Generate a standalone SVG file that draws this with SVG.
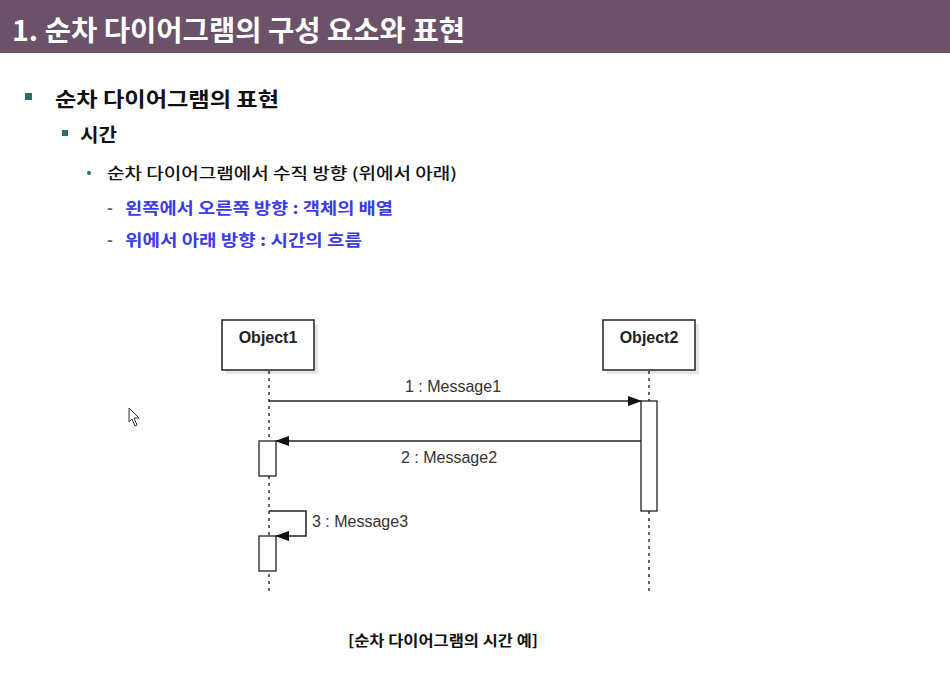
<svg xmlns="http://www.w3.org/2000/svg" width="950" height="697" viewBox="0 0 950 697">
<defs>
<style>
.kr{font-family:"Noto Sans CJK KR","Noto Sans",sans-serif;}
.title{fill:#ffffff;font-size:28px;font-weight:700;}
.h1{fill:#111;font-size:20px;font-weight:700;}
.h2{fill:#111;font-size:19px;font-weight:700;}
.h3{fill:#111;font-size:15.5px;font-weight:500;}
.blue{fill:#3b3bea;font-size:16px;font-weight:700;}
.dash{fill:#2e6b6b;font-size:16px;font-weight:700;}
.obj{fill:#fff;stroke:#222;stroke-width:1.5;}
.shadow{fill:#e6e6e6;}
.objt{font-family:"Liberation Sans",Arial,sans-serif;font-size:16px;font-weight:700;fill:#222;}
.msg{font-family:"Liberation Sans",Arial,sans-serif;font-size:16px;fill:#333;}
.life{stroke:#333;stroke-width:1.5;stroke-dasharray:3,4;fill:none;}
.act{fill:#fff;stroke:#222;stroke-width:1.3;}
.line{stroke:#222;stroke-width:1.5;fill:none;}
</style>
<marker id="ah" markerWidth="14" markerHeight="10" refX="13" refY="5" orient="auto" markerUnits="userSpaceOnUse">
<path d="M0,0 L14,5 L0,10 Z" fill="#111"/>
</marker>
</defs>
<rect width="950" height="697" fill="#ffffff"/>
<g id="header">
<rect x="0" y="0" width="950" height="53" fill="#6b5268"/>
<text class="kr title" x="12" y="41" textLength="453" lengthAdjust="spacingAndGlyphs">1. 순차 다이어그램의 구성 요소와 표현</text>
</g>
<g id="bullets">
<rect x="25" y="93" width="7" height="7" fill="#2e6b6b"/>
<text class="kr h1" x="55" y="107" textLength="224" lengthAdjust="spacingAndGlyphs">순차 다이어그램의 표현</text>
<rect x="62" y="130" width="6" height="6" fill="#2e6b6b"/>
<text class="kr h2" x="80" y="142" textLength="37" lengthAdjust="spacingAndGlyphs">시간</text>
<circle cx="89" cy="173" r="2" fill="#2e6b6b"/>
<text class="kr h3" x="107" y="179" textLength="350" lengthAdjust="spacingAndGlyphs">순차 다이어그램에서 수직 방향 (위에서 아래)</text>
<text class="kr dash" x="107" y="214">-</text>
<text class="kr blue" x="125" y="214" textLength="268" lengthAdjust="spacingAndGlyphs">왼쪽에서 오른쪽 방향 : 객체의 배열</text>
<text class="kr dash" x="107" y="246">-</text>
<text class="kr blue" x="125" y="246" textLength="237" lengthAdjust="spacingAndGlyphs">위에서 아래 방향 : 시간의 흐름</text>
</g>
<g id="cursor">
<path d="M129,408 L129,422 L132,419 L135,426 L137,425 L134,418 L139,418 Z" fill="#fff" stroke="#333" stroke-width="1"/>
</g>
<g id="object1">
<rect class="shadow" x="226" y="324" width="92" height="50"/>
<rect class="obj" x="222" y="320" width="92" height="50"/>
<text class="objt" x="268" y="343" text-anchor="middle">Object1</text>
</g>
<g id="object2">
<rect class="shadow" x="607" y="324" width="92" height="50"/>
<rect class="obj" x="603" y="320" width="92" height="50"/>
<text class="objt" x="649" y="343" text-anchor="middle">Object2</text>
</g>
<g id="connectors">
<line class="life" x1="269" y1="371" x2="269" y2="592"/>
<line class="life" x1="649" y1="371" x2="649" y2="592"/>
<line class="line" x1="269" y1="401" x2="641" y2="401" marker-end="url(#ah)"/>
<line class="line" x1="641" y1="441" x2="276" y2="441" marker-end="url(#ah)"/>
<polyline class="line" points="269,511 306,511 306,536 276,536" marker-end="url(#ah)"/>
</g>
<g id="act2">
<rect class="act" x="641" y="401" width="16" height="110"/>
</g>
<g id="act1a">
<rect class="act" x="259" y="441" width="17" height="35"/>
</g>
<g id="act1b">
<rect class="act" x="259" y="536" width="17" height="35"/>
</g>
<g id="labels">
<text class="msg" x="453" y="392" text-anchor="middle">1 : Message1</text>
<text class="msg" x="449" y="463" text-anchor="middle">2 : Message2</text>
<text class="msg" x="312" y="527">3 : Message3</text>
</g>
<g id="caption">
<text class="kr" x="348" y="646" textLength="190" lengthAdjust="spacingAndGlyphs" font-size="14.5" font-weight="700" fill="#111">[순차 다이어그램의 시간 예]</text>
</g>
</svg>
